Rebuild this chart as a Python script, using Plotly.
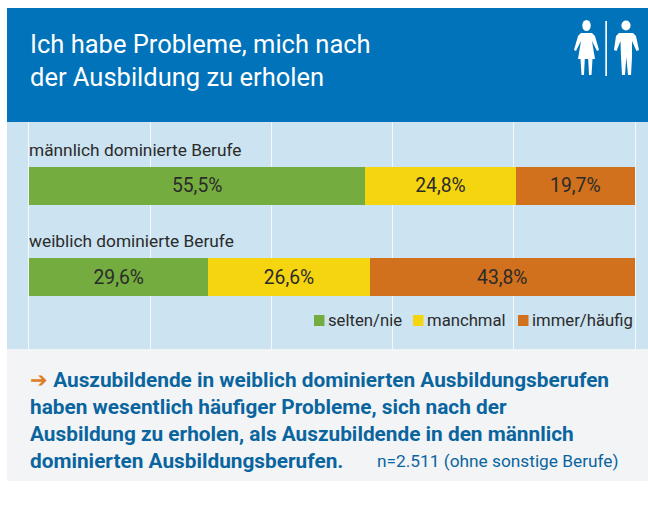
import plotly.graph_objects as go

categories = ["weiblich dominierte Berufe", "männlich dominierte Berufe"]
series_names = ["selten/nie", "manchmal", "immer/häufig"]
selten = [29.6, 55.5]
manchmal = [26.6, 24.8]
immer = [43.8, 19.7]
series_values = [selten, manchmal, immer]
colors = ["#74AC3F", "#F5D50F", "#D1701D"]
title_lines = ["Ich habe Probleme, mich nach", "der Ausbildung zu erholen"]
finding_lines = ["<span style='color:#E07B1F'>➔</span> <b>Auszubildende in weiblich dominierten Ausbildungsberufen</b>",
                 "<b>haben wesentlich häufiger Probleme, sich nach der</b>",
                 "<b>Ausbildung zu erholen, als Auszubildende in den männlich</b>",
                 "<b>dominierten Ausbildungsberufen.</b>"]
note_text = "n=2.511 (ohne sonstige Berufe)"

W, H = 648, 514
FONT = "Roboto"
DARK = "#2B2B2B"
BLUE_TEXT = "#0A659F"
def px(x): return x / W
def py(y): return 1 - y / H

def rect(x0, y0, x1, y1, c):
    return dict(type="rect", xref="paper", yref="paper", x0=px(x0), x1=px(x1), y0=py(y0), y1=py(y1),
                fillcolor=c, line_width=0, layer="below")

fig = go.Figure()
for name, vals, c in zip(series_names, series_values, colors):
    fig.add_trace(go.Bar(
        y=categories, x=vals, name=name, orientation="h", marker=dict(color=c, line_width=0),
        width=0.4176, texttemplate="%{x:.1f}%", textposition="inside", insidetextanchor="middle",
        textangle=0, textfont=dict(family=FONT, size=19.3, color=DARK), showlegend=False,
    ))

shapes = [rect(7, 8, 648, 122, "#0073BA"), rect(7, 122, 648, 349, "#CCE3F1"), rect(7, 349, 648, 481, "#F3F4F6")]

def poly(points):
    cmds = []
    for i, p in enumerate(points):
        cmds.append(("M" if i == 0 else "L") + f"{px(p[0]):.5f},{py(p[1]):.5f}")
    cmds.append("Z")
    return " ".join(cmds)

def add_poly(points):
    shapes.append(dict(type="path", xref="paper", yref="paper", path=poly(points), fillcolor="white", line_width=0, layer="above"))

def add_circle(cx, cy, rx, ry):
    shapes.append(dict(type="circle", xref="paper", yref="paper", x0=px(cx-rx), x1=px(cx+rx), y0=py(cy+ry), y1=py(cy-ry),
                       fillcolor="white", line_width=0, layer="above"))

# woman
add_circle(586.5, 25.5, 4.2, 5.5)
add_poly([(581, 33), (592, 33), (595, 36), (599, 50), (597, 51), (592, 41), (595, 59), (578, 59), (581, 41), (576, 51), (574, 50), (578, 36)])
add_poly([(580.5, 59), (584.8, 59), (584, 75), (581.5, 75)])
add_poly([(588.2, 59), (592.5, 59), (591.5, 75), (589, 75)])
# divider
add_poly([(605.3, 21), (607, 21), (607, 76), (605.3, 76)])
# man
add_circle(626, 25.5, 4.6, 5)
add_poly([(619, 33), (633, 33), (636, 36), (639, 50), (636.5, 51), (632, 41), (632, 57), (631, 75), (628, 75), (626.3, 57), (625, 75), (622, 75), (621, 57), (620.5, 41), (616.5, 51), (614, 50), (616, 36)])

annotations = [
    dict(text=title_lines[0], x=px(30), y=py(44), xanchor="left", yanchor="middle",
         font=dict(family=FONT, size=25.5, color="white")),
    dict(text=title_lines[1], x=px(30), y=py(77), xanchor="left", yanchor="middle",
         font=dict(family=FONT, size=25.5, color="white")),
    dict(text=categories[1], x=px(29), y=py(150), xanchor="left", yanchor="middle",
         font=dict(family=FONT, size=17.3, color=DARK)),
    dict(text=categories[0], x=px(29), y=py(241), xanchor="left", yanchor="middle",
         font=dict(family=FONT, size=17.3, color=DARK)),
    dict(text=note_text, x=px(619), y=py(460.5), xanchor="right", yanchor="middle",
         font=dict(family=FONT, size=17.3, color=BLUE_TEXT)),
]
for line, y in zip(finding_lines, [379.5, 406.5, 433.5, 460.5]):
    annotations.append(dict(text=line, x=px(30), y=py(y), xanchor="left", yanchor="middle",
                            font=dict(family=FONT, size=20.8, color=BLUE_TEXT)))
legend_pos = [314, 413, 518]
for name, c, x in zip(series_names, colors, legend_pos):
    shapes.append(rect(x, 315, x + 10.5, 326, c) | dict(layer="above"))
    annotations.append(dict(text=name, x=px(x + 14), y=py(320), xanchor="left", yanchor="middle",
                            font=dict(family=FONT, size=16.7, color=DARK)))
for a in annotations:
    a.update(xref="paper", yref="paper", showarrow=False, borderpad=0, borderwidth=0)

fig.update_layout(
    width=W, height=H, autosize=False, margin=dict(l=0, r=0, t=0, b=0), barmode="stack", separators=",.",
    paper_bgcolor="white", plot_bgcolor="rgba(0,0,0,0)", shapes=shapes, annotations=annotations,
    xaxis=dict(domain=[px(29), px(635)], range=[0, 100], tick0=0, dtick=20, showgrid=True, gridcolor="#F4F8FB", gridwidth=1,
               showticklabels=False, ticks="", zeroline=False, showline=False),
    yaxis=dict(domain=[py(349), py(122)], range=[-0.791, 1.703], type="category", showgrid=False, showticklabels=False,
               ticks="", zeroline=False, showline=True, mirror=True, linecolor="#F4F8FB", linewidth=1, layer="below traces"),
)
fig.write_html("out.html", config=dict(displayModeBar=False), post_script="document.body.style.margin='0';")
